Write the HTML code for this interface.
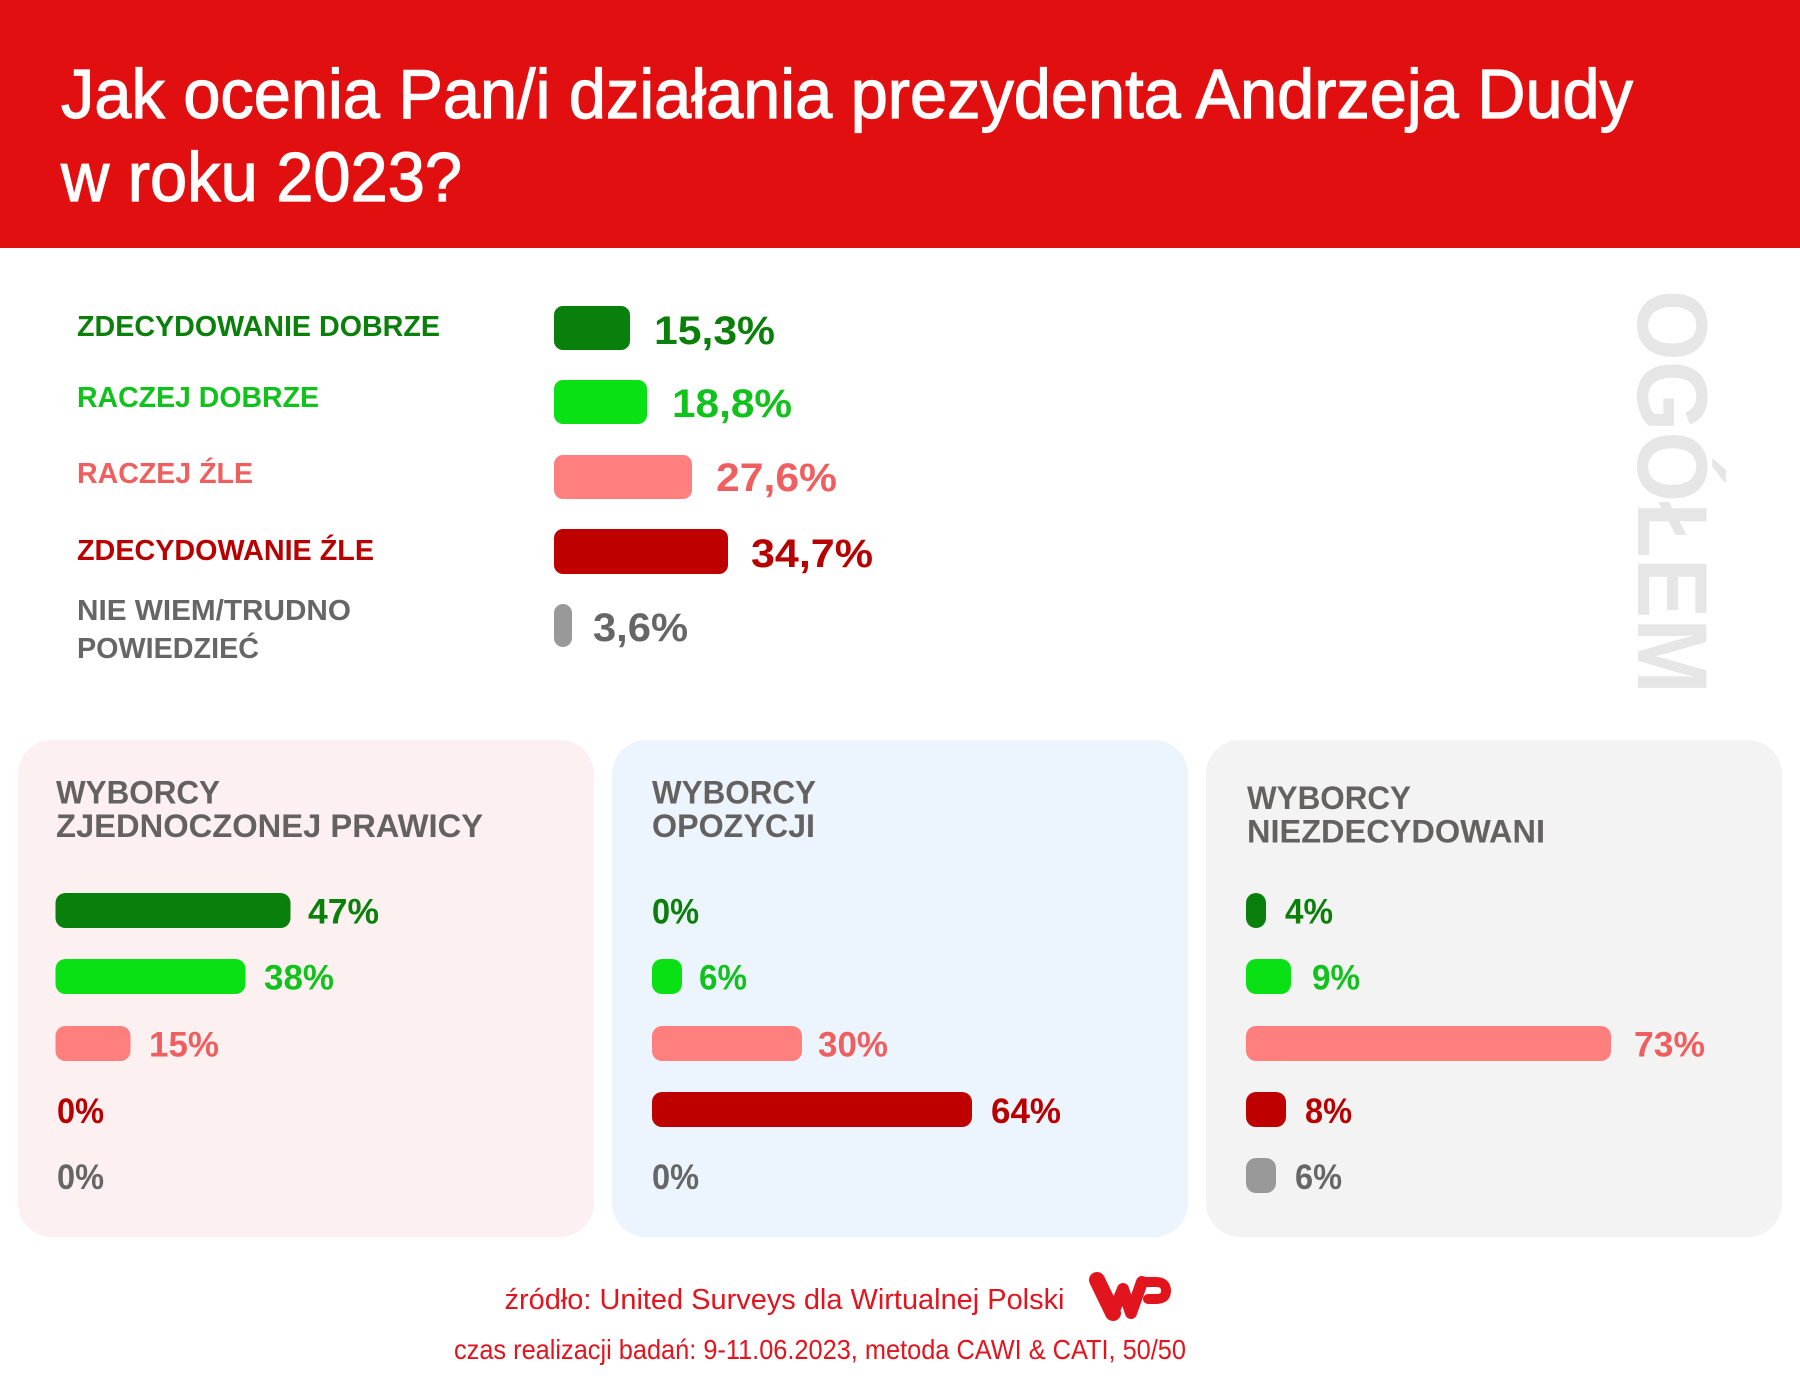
<!DOCTYPE html>
<html>
<head>
<meta charset="utf-8">
<style>
html,body{margin:0;padding:0;background:#fff;}
svg{display:block;}
.t{font-family:"Liberation Sans",Arial,sans-serif;}
.b{font-family:"Liberation Sans",Arial,sans-serif;font-weight:bold;}
</style>
</head>
<body>
<svg width="1800" height="1400" viewBox="0 0 1800 1400" xmlns="http://www.w3.org/2000/svg">
  <rect x="0" y="0" width="1800" height="1400" fill="#ffffff"/>
  <!-- header -->
  <rect x="0" y="0" width="1800" height="248" fill="#E20F10"/>
  <text class="t" x="61" y="118" font-size="70" fill="#ffffff" stroke="#ffffff" stroke-width="1.2" textLength="1572" lengthAdjust="spacingAndGlyphs">Jak ocenia Pan/i działania prezydenta Andrzeja Dudy</text>
  <text class="t" x="61" y="201" font-size="70" fill="#ffffff" stroke="#ffffff" stroke-width="1.2" textLength="401" lengthAdjust="spacingAndGlyphs">w roku 2023?</text>

  <!-- OGÓŁEM -->
  <text class="b" transform="translate(1638,290) rotate(90)" font-size="99" fill="#E6E6E6" textLength="404" lengthAdjust="spacingAndGlyphs">OGÓŁEM</text>

  <!-- top labels -->
  <text class="b" x="77" y="336" font-size="29" fill="#0A800A" textLength="363" lengthAdjust="spacingAndGlyphs">ZDECYDOWANIE DOBRZE</text>
  <text class="b" x="77" y="407" font-size="29" fill="#10C21B" textLength="242" lengthAdjust="spacingAndGlyphs">RACZEJ DOBRZE</text>
  <text class="b" x="77" y="483" font-size="29" fill="#F05F5F" textLength="176" lengthAdjust="spacingAndGlyphs">RACZEJ ŹLE</text>
  <text class="b" x="77" y="560" font-size="29" fill="#B80000" textLength="297" lengthAdjust="spacingAndGlyphs">ZDECYDOWANIE ŹLE</text>
  <text class="b" x="77" y="620" font-size="29" fill="#666666" textLength="274" lengthAdjust="spacingAndGlyphs">NIE WIEM/TRUDNO</text>
  <text class="b" x="77" y="658" font-size="29" fill="#666666" textLength="182" lengthAdjust="spacingAndGlyphs">POWIEDZIEĆ</text>

  <!-- top bars -->
  <rect x="554" y="306" width="76" height="44" rx="9" fill="#08800B"/>
  <rect x="554" y="380" width="93" height="44" rx="9" fill="#0AE114"/>
  <rect x="554" y="455" width="138" height="44" rx="9" fill="#FF7F7F"/>
  <rect x="554" y="529" width="174" height="45" rx="9" fill="#BE0000"/>
  <rect x="554" y="604" width="18" height="43" rx="9" fill="#999999"/>

  <text class="b" x="654" y="344" font-size="40" fill="#0A800A" textLength="121" lengthAdjust="spacingAndGlyphs">15,3%</text>
  <text class="b" x="672" y="417" font-size="40" fill="#10C21B" textLength="120" lengthAdjust="spacingAndGlyphs">18,8%</text>
  <text class="b" x="716" y="491" font-size="40" fill="#F05F5F" textLength="121" lengthAdjust="spacingAndGlyphs">27,6%</text>
  <text class="b" x="751" y="567" font-size="40" fill="#B80000" textLength="122" lengthAdjust="spacingAndGlyphs">34,7%</text>
  <text class="b" x="593" y="641" font-size="40" fill="#666666" textLength="95" lengthAdjust="spacingAndGlyphs">3,6%</text>

  <!-- panels -->
  <rect x="18" y="740" width="576" height="497" rx="34" fill="#FCF0F0"/>
  <rect x="612" y="740" width="576" height="497" rx="34" fill="#ECF4FD"/>
  <rect x="1206" y="740" width="576" height="497" rx="34" fill="#F3F3F3"/>

  <!-- panel 1 -->
  <text class="b" x="56" y="803.5" font-size="32" fill="#646161" textLength="164" lengthAdjust="spacingAndGlyphs">WYBORCY</text>
  <text class="b" x="56" y="837" font-size="32" fill="#646161" textLength="427" lengthAdjust="spacingAndGlyphs">ZJEDNOCZONEJ PRAWICY</text>
  <rect x="55.5" y="893" width="235" height="35" rx="10" fill="#08800B"/>
  <rect x="55.5" y="959" width="190" height="35" rx="10" fill="#0AE114"/>
  <rect x="55.5" y="1026" width="75" height="35" rx="10" fill="#FF7F7F"/>
  <text class="b" x="308" y="923.5" font-size="35" fill="#0A800A" textLength="71" lengthAdjust="spacingAndGlyphs">47%</text>
  <text class="b" x="264" y="989.5" font-size="35" fill="#10C21B" textLength="70" lengthAdjust="spacingAndGlyphs">38%</text>
  <text class="b" x="149" y="1056.5" font-size="35" fill="#F05F5F" textLength="70" lengthAdjust="spacingAndGlyphs">15%</text>
  <text class="b" x="57" y="1123" font-size="35" fill="#B80000" textLength="47" lengthAdjust="spacingAndGlyphs">0%</text>
  <text class="b" x="57" y="1189" font-size="35" fill="#666666" textLength="47" lengthAdjust="spacingAndGlyphs">0%</text>

  <!-- panel 2 -->
  <text class="b" x="652" y="803.5" font-size="32" fill="#646161" textLength="164" lengthAdjust="spacingAndGlyphs">WYBORCY</text>
  <text class="b" x="652" y="837" font-size="32" fill="#646161" textLength="163" lengthAdjust="spacingAndGlyphs">OPOZYCJI</text>
  <rect x="652" y="959" width="30" height="35" rx="10" fill="#0AE114"/>
  <rect x="652" y="1026" width="150" height="35" rx="10" fill="#FF7F7F"/>
  <rect x="652" y="1092" width="320" height="35" rx="10" fill="#BE0000"/>
  <text class="b" x="652" y="923.5" font-size="35" fill="#0A800A" textLength="47" lengthAdjust="spacingAndGlyphs">0%</text>
  <text class="b" x="699" y="989.5" font-size="35" fill="#10C21B" textLength="48" lengthAdjust="spacingAndGlyphs">6%</text>
  <text class="b" x="818" y="1056.5" font-size="35" fill="#F05F5F" textLength="70" lengthAdjust="spacingAndGlyphs">30%</text>
  <text class="b" x="991" y="1123" font-size="35" fill="#B80000" textLength="70" lengthAdjust="spacingAndGlyphs">64%</text>
  <text class="b" x="652" y="1189" font-size="35" fill="#666666" textLength="47" lengthAdjust="spacingAndGlyphs">0%</text>

  <!-- panel 3 -->
  <text class="b" x="1247" y="809" font-size="32" fill="#646161" textLength="164" lengthAdjust="spacingAndGlyphs">WYBORCY</text>
  <text class="b" x="1247" y="842.5" font-size="32" fill="#646161" textLength="298" lengthAdjust="spacingAndGlyphs">NIEZDECYDOWANI</text>
  <rect x="1246" y="893" width="20" height="35" rx="10" fill="#08800B"/>
  <rect x="1246" y="959" width="45" height="35" rx="10" fill="#0AE114"/>
  <rect x="1246" y="1026" width="365" height="35" rx="10" fill="#FF7F7F"/>
  <rect x="1246" y="1092" width="40" height="35" rx="10" fill="#BE0000"/>
  <rect x="1246" y="1158" width="30" height="35" rx="10" fill="#999999"/>
  <text class="b" x="1285" y="923.5" font-size="35" fill="#0A800A" textLength="48" lengthAdjust="spacingAndGlyphs">4%</text>
  <text class="b" x="1312" y="989.5" font-size="35" fill="#10C21B" textLength="48" lengthAdjust="spacingAndGlyphs">9%</text>
  <text class="b" x="1634" y="1056.5" font-size="35" fill="#F05F5F" textLength="71" lengthAdjust="spacingAndGlyphs">73%</text>
  <text class="b" x="1305" y="1123" font-size="35" fill="#B80000" textLength="47" lengthAdjust="spacingAndGlyphs">8%</text>
  <text class="b" x="1295" y="1189" font-size="35" fill="#666666" textLength="47" lengthAdjust="spacingAndGlyphs">6%</text>

  <!-- footer -->
  <text class="t" x="504.5" y="1309" font-size="29" fill="#E2141E" textLength="560" lengthAdjust="spacingAndGlyphs">źródło: United Surveys dla Wirtualnej Polski</text>
  <text class="t" x="454" y="1359" font-size="28" fill="#E2141E" textLength="732" lengthAdjust="spacingAndGlyphs">czas realizacji badań: 9-11.06.2023, metoda CAWI &amp; CATI, 50/50</text>

  <!-- WP logo -->
  <g fill="none" stroke="#E2141E" stroke-linecap="round" stroke-linejoin="round">
    <path d="M1097 1280 L1113 1313" stroke-width="16"/>
    <path d="M1113 1313 L1123 1289 L1131 1313 L1142 1282" stroke-width="12"/>
    <path d="M1142 1282 L1156 1282 Q1166 1282 1166 1291 Q1166 1299 1156 1299 L1148 1299" stroke-width="10"/>
  </g>
</svg>
</body>
</html>
